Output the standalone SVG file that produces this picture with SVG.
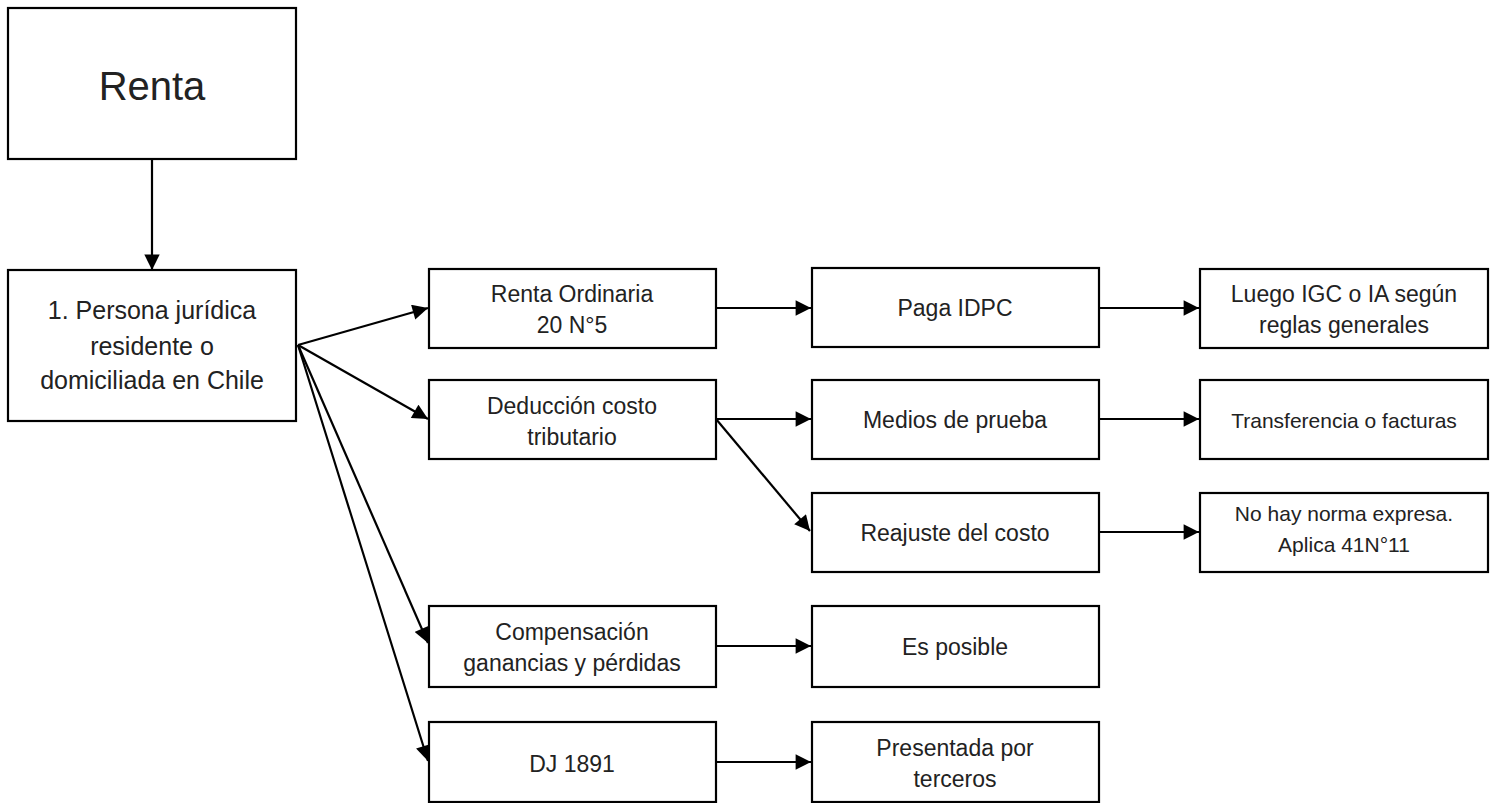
<svg xmlns="http://www.w3.org/2000/svg" width="1499" height="803" viewBox="0 0 1499 803">
<style>
.box{fill:#fff;stroke:#000;stroke-width:2.2}
.t{font-family:"Liberation Sans",Arial,sans-serif;font-size:23px;fill:#222;text-anchor:middle}
.conn line{stroke:#000;stroke-width:2.2;marker-end:url(#ah)}
</style>
<defs>
<marker id="ah" viewBox="0 0 10 10" refX="10" refY="5" markerWidth="7.5" markerHeight="7" markerUnits="strokeWidth" orient="auto">
<path d="M0,0 L10,5 L0,10 z" fill="#000"/>
</marker>
</defs>
<rect width="1499" height="803" fill="#fff"/>
<g class="conn">
<line x1="152" y1="159" x2="152" y2="270"/>
<line x1="298" y1="345" x2="428" y2="308"/>
<line x1="298" y1="345" x2="428" y2="419"/>
<line x1="298" y1="345" x2="428" y2="643"/>
<line x1="298" y1="345" x2="428" y2="761"/>
<line x1="716" y1="308" x2="811" y2="308"/>
<line x1="716" y1="419" x2="811" y2="419"/>
<line x1="716" y1="419" x2="810" y2="531"/>
<line x1="716" y1="646" x2="811" y2="646"/>
<line x1="716" y1="762" x2="811" y2="762"/>
<line x1="1099" y1="308" x2="1199" y2="308"/>
<line x1="1099" y1="419" x2="1199" y2="419"/>
<line x1="1099" y1="532" x2="1199" y2="532"/>
</g>
<g id="renta">
<rect class="box" x="8" y="8" width="288" height="151"/>
<text class="t" x="152" y="100" style="font-size:40px">Renta</text>
</g>
<g id="persona">
<rect class="box" x="8" y="270" width="288" height="151"/>
<text class="t" x="152" y="319" style="font-size:25px">1. Persona jurídica</text>
<text class="t" x="152" y="355" style="font-size:25px">residente o</text>
<text class="t" x="152" y="389" style="font-size:25px">domiciliada en Chile</text>
</g>
<g id="renta-ordinaria">
<rect class="box" x="429" y="269" width="287" height="79"/>
<text class="t" x="572" y="302">Renta Ordinaria</text>
<text class="t" x="572" y="333">20 N°5</text>
</g>
<g id="deduccion">
<rect class="box" x="429" y="380" width="287" height="79"/>
<text class="t" x="572" y="414">Deducción costo</text>
<text class="t" x="572" y="445">tributario</text>
</g>
<g id="compensacion">
<rect class="box" x="429" y="606" width="287" height="81"/>
<text class="t" x="572" y="640">Compensación</text>
<text class="t" x="572" y="671">ganancias y pérdidas</text>
</g>
<g id="dj1891">
<rect class="box" x="429" y="722" width="287" height="80"/>
<text class="t" x="572" y="772">DJ 1891</text>
</g>
<g id="paga-idpc">
<rect class="box" x="812" y="268" width="287" height="79"/>
<text class="t" x="955" y="316">Paga IDPC</text>
</g>
<g id="medios">
<rect class="box" x="812" y="380" width="287" height="79"/>
<text class="t" x="955" y="428">Medios de prueba</text>
</g>
<g id="reajuste">
<rect class="box" x="812" y="493" width="287" height="79"/>
<text class="t" x="955" y="541">Reajuste del costo</text>
</g>
<g id="es-posible">
<rect class="box" x="812" y="606" width="287" height="81"/>
<text class="t" x="955" y="655">Es posible</text>
</g>
<g id="presentada">
<rect class="box" x="812" y="722" width="287" height="80"/>
<text class="t" x="955" y="756">Presentada por</text>
<text class="t" x="955" y="787">terceros</text>
</g>
<g id="luego">
<rect class="box" x="1200" y="269" width="288" height="79"/>
<text class="t" x="1344" y="302">Luego IGC o IA según</text>
<text class="t" x="1344" y="333">reglas generales</text>
</g>
<g id="transferencia">
<rect class="box" x="1200" y="380" width="288" height="79"/>
<text class="t" x="1344" y="428" style="font-size:21px">Transferencia o facturas</text>
</g>
<g id="norma">
<rect class="box" x="1200" y="493" width="288" height="79"/>
<text class="t" x="1344" y="521" style="font-size:21px">No hay norma expresa.</text>
<text class="t" x="1344" y="552" style="font-size:21px">Aplica 41N°11</text>
</g>
</svg>
